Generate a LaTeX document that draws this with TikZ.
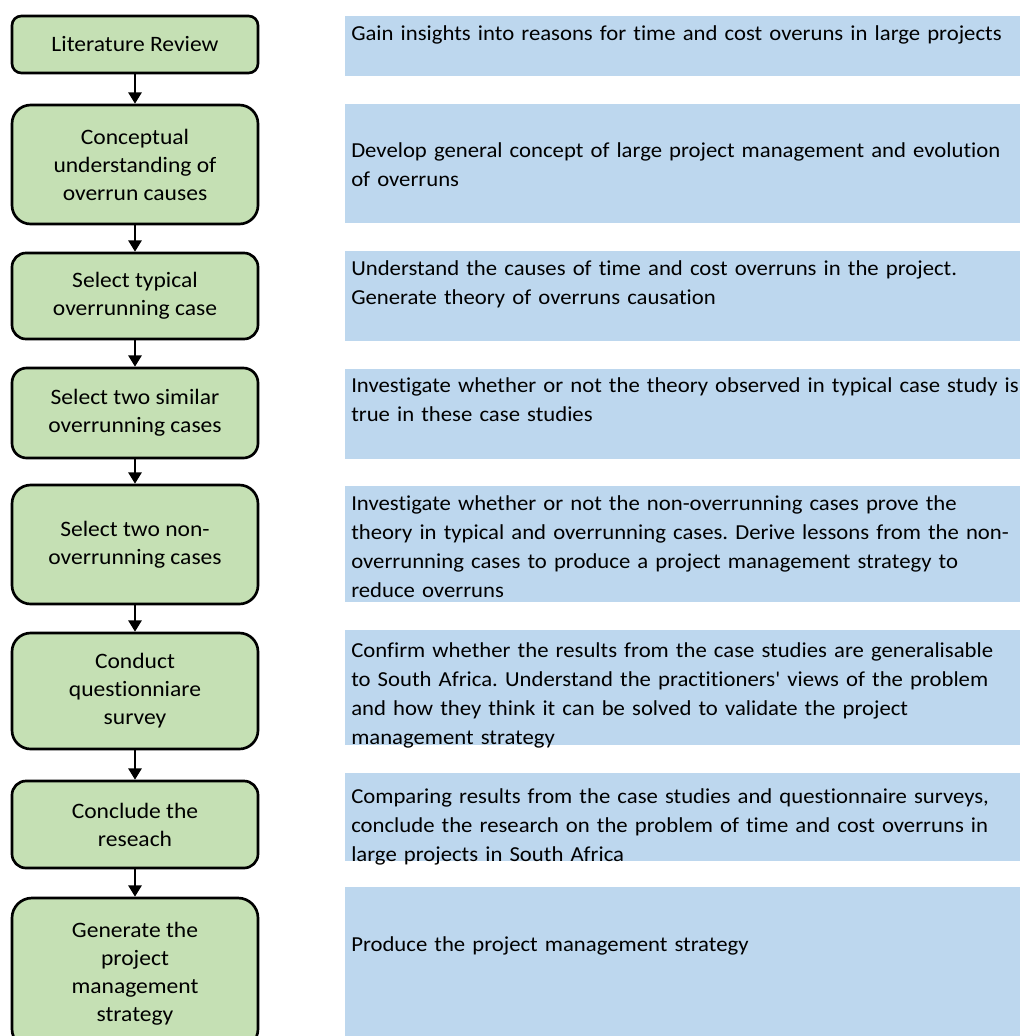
\documentclass[tikz,border=0pt]{standalone}
\usepackage{fontspec}
\setmainfont{Carlito}
\newfontfamily\stepfont[FakeStretch=1.07,Ligatures=NoCommon]{Carlito}
\newfontfamily\notefont[FakeStretch=1.065,WordSpace=0.8,Ligatures=NoCommon]{Carlito}
\usetikzlibrary{arrows.meta}
\definecolor{stepgreen}{HTML}{C5E0B4}
\definecolor{noteblue}{HTML}{BDD7EE}
\frenchspacing
\begin{document}
\begin{tikzpicture}[x=0.75pt,y=-0.75pt,
  stepbox/.style={draw=black, line width=2pt, fill=stepgreen, align=center,
    font=\stepfont\fontsize{16.5}{21}\selectfont, minimum width=184.5pt, inner sep=0pt},
  notebox/.style={fill=noteblue, inner sep=0pt, anchor=north west, minimum width=506.25pt},
  notetext/.style={anchor=base west, inner sep=0pt, align=left, text width=540pt,
    font=\notefont\fontsize{16}{21.75}\selectfont},
  flow/.style={line width=1.5pt, -{Triangle[width=10pt,length=8.5pt]}}]
\useasboundingbox (0,0) rectangle (1020,1036);
\clip (0,0) rectangle (1020,1036);

% process steps
\node[stepbox, minimum height=42.75pt, rounded corners=7pt]  (s1) at (135,44.5) {Literature Review};
\node[stepbox, minimum height=89.25pt, rounded corners=14pt] (s2) at (135,164.5) {Conceptual\\understanding of\\overrun causes};
\node[stepbox, minimum height=64.5pt, rounded corners=10.5pt] (s3) at (135,296) {Select typical\\overrunning case};
\node[stepbox, minimum height=67.5pt, rounded corners=11pt] (s4) at (135,413) {Select two similar\\overrunning cases};
\node[stepbox, minimum height=89.25pt, rounded corners=14pt] (s5) at (135,544.5) {Select two non-\\overrunning cases};
\node[stepbox, minimum height=87pt, rounded corners=14pt] (s6) at (135,691) {Conduct\\questionniare\\survey};
\node[stepbox, minimum height=65.25pt, rounded corners=10.5pt] (s7) at (135,824.5) {Conclude the\\reseach};
\node[stepbox, minimum height=113.25pt, rounded corners=15pt] (s8) at (135,973.5) {Generate the\\project\\management\\strategy};

\foreach \a/\b in {s1/s2,s2/s3,s3/s4,s4/s5,s5/s6,s6/s7,s7/s8}
  \draw[flow] (\a) -- (\b);

% descriptions
\node[notebox, minimum height=45pt]    (n1) at (345,16) {};
\node[notebox, minimum height=89.25pt] (n2) at (345,104) {};
\node[notebox, minimum height=67.5pt]  (n3) at (345,251) {};
\node[notebox, minimum height=67.5pt]  (n4) at (345,369) {};
\node[notebox, minimum height=87pt]    (n5) at (345,486) {};
\node[notebox, minimum height=86.25pt] (n6) at (345,630) {};
\node[notebox, minimum height=66pt]    (n7) at (345,773) {};
\node[notebox, minimum height=120pt]   (n8) at (345,887) {};

\node[notetext] (t1) at (351,40) {Gain insights into reasons for time and cost overuns in large projects};
\node[notetext] (t2) at (351,157) {Develop general concept of large project management and evolution\\of overruns};
\node[notetext] (t3) at (351,275.5) {Understand the causes of time and cost overruns in the project.\\Generate theory of overruns causation};
\node[notetext] (t4) at (351,392) {Investigate whether or not the theory observed in typical case study is\\true in these case studies};
\node[notetext] (t5) at (351,510.5) {Investigate whether or not the non-overrunning cases prove the\\theory in typical and overrunning cases. Derive lessons from the non-\\overrunning cases to produce a project management strategy to\\reduce overruns};
\node[notetext] (t6) at (351,657) {Confirm whether the results from the case studies are generalisable\\to South Africa. Understand the practitioners' views of the problem\\and how they think it can be solved to validate the project\\management strategy};
\node[notetext] (t7) at (351,803) {Comparing results from the case studies and questionnaire surveys,\\conclude the research on the problem of time and cost overruns in\\large projects in South Africa};
\node[notetext] (t8) at (351,951) {Produce the project management strategy};
\end{tikzpicture}
\end{document}
